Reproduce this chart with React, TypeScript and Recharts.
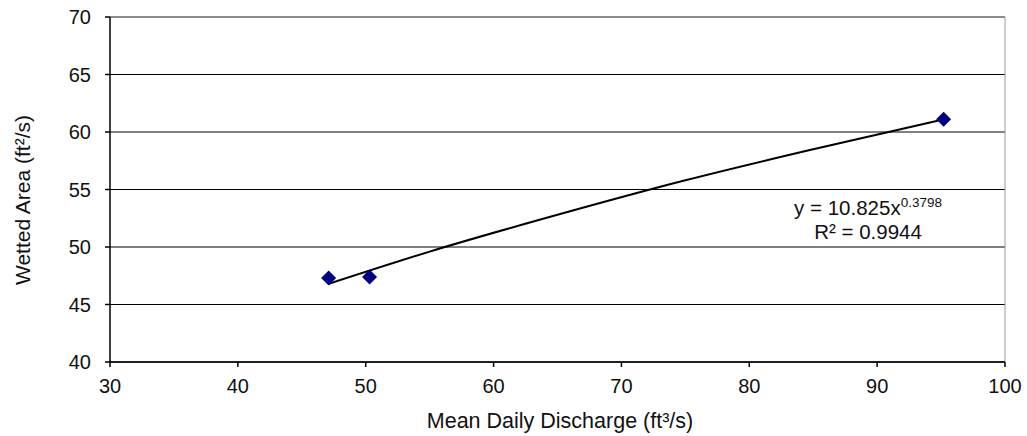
import React from 'react';
import {
  ComposedChart,
  Scatter,
  Line,
  XAxis,
  YAxis,
  CartesianGrid,
  ReferenceLine,
  Customized,
} from 'recharts';

// observed values
const dischargeValues = [47.1, 50.3, 95.2];
const areaValues = [47.3, 47.4, 61.1];

// power trendline (y = 10.825x^0.3798)
const trendX = [47.1, 55, 65, 75, 85, 95.2];
const trendY = [46.8, 49.6, 52.8, 55.8, 58.5, 61.1];

const xTicks = [30, 40, 50, 60, 70, 80, 90, 100];
const yTicks = [40, 45, 50, 55, 60, 65, 70];

const points = dischargeValues.map((x, i) => ({ x, y: areaValues[i] }));
const trend = trendX.map((x, i) => ({ x, y: trendY[i] }));

const font = '"Liberation Sans", Arial, sans-serif';

const Diamond = (props: any) => {
  const { cx, cy } = props;
  const r = 7.5;
  return (
    <polygon
      points={`${cx},${cy - r} ${cx + r},${cy} ${cx},${cy + r} ${cx - r},${cy}`}
      fill="#000080"
    />
  );
};

const Annotations = () => (
  <g fontFamily={font} fill="#111">
    <text
      x={22}
      y={200}
      fontSize={21}
      textAnchor="middle"
      dominantBaseline="central"
      transform="rotate(-90, 22, 200)"
    >
      Wetted Area (ft²/s)
    </text>
    <text x={560} y={428} fontSize={21.5} textAnchor="middle">
      Mean Daily Discharge (ft³/s)
    </text>
    <text x={868} y={215} fontSize={20.5} textAnchor="middle">
      y = 10.825x<tspan fontSize={13.5} dy={-8}>0.3798</tspan>
    </text>
    <text x={868} y={239} fontSize={20.5} textAnchor="middle">
      R² = 0.9944
    </text>
  </g>
);

export default function App() {
  return (
    <div style={{ position: 'absolute', left: 0, top: 0, background: '#fff' }}>
      <ComposedChart
        width={1027}
        height={436}
        margin={{ top: 17, right: 22, bottom: 0, left: 0 }}
      >
        <CartesianGrid vertical={false} stroke="#000" />
        <XAxis
          type="number"
          dataKey="x"
          domain={[30, 100]}
          ticks={xTicks}
          height={74}
          tickSize={5}
          tickMargin={12}
          stroke="#000"
          strokeWidth={1.5}
          tick={{ fontSize: 20, fill: '#111', fontFamily: font }}
          allowDataOverflow
        />
        <YAxis
          type="number"
          dataKey="y"
          domain={[40, 70]}
          ticks={yTicks}
          width={110}
          tickSize={5}
          tickMargin={14}
          stroke="#000"
          strokeWidth={1.5}
          tick={{ fontSize: 20, fill: '#111', fontFamily: font }}
          allowDataOverflow
        />
        <ReferenceLine y={70} stroke="#999" />
        <ReferenceLine x={100} stroke="#999" />
        <Line
          data={trend}
          dataKey="y"
          type="monotone"
          stroke="#000"
          strokeWidth={2}
          dot={false}
          isAnimationActive={false}
        />
        <Scatter
          data={points}
          dataKey="y"
          shape={<Diamond />}
          isAnimationActive={false}
        />
        <Customized component={<Annotations />} />
      </ComposedChart>
    </div>
  );
}
